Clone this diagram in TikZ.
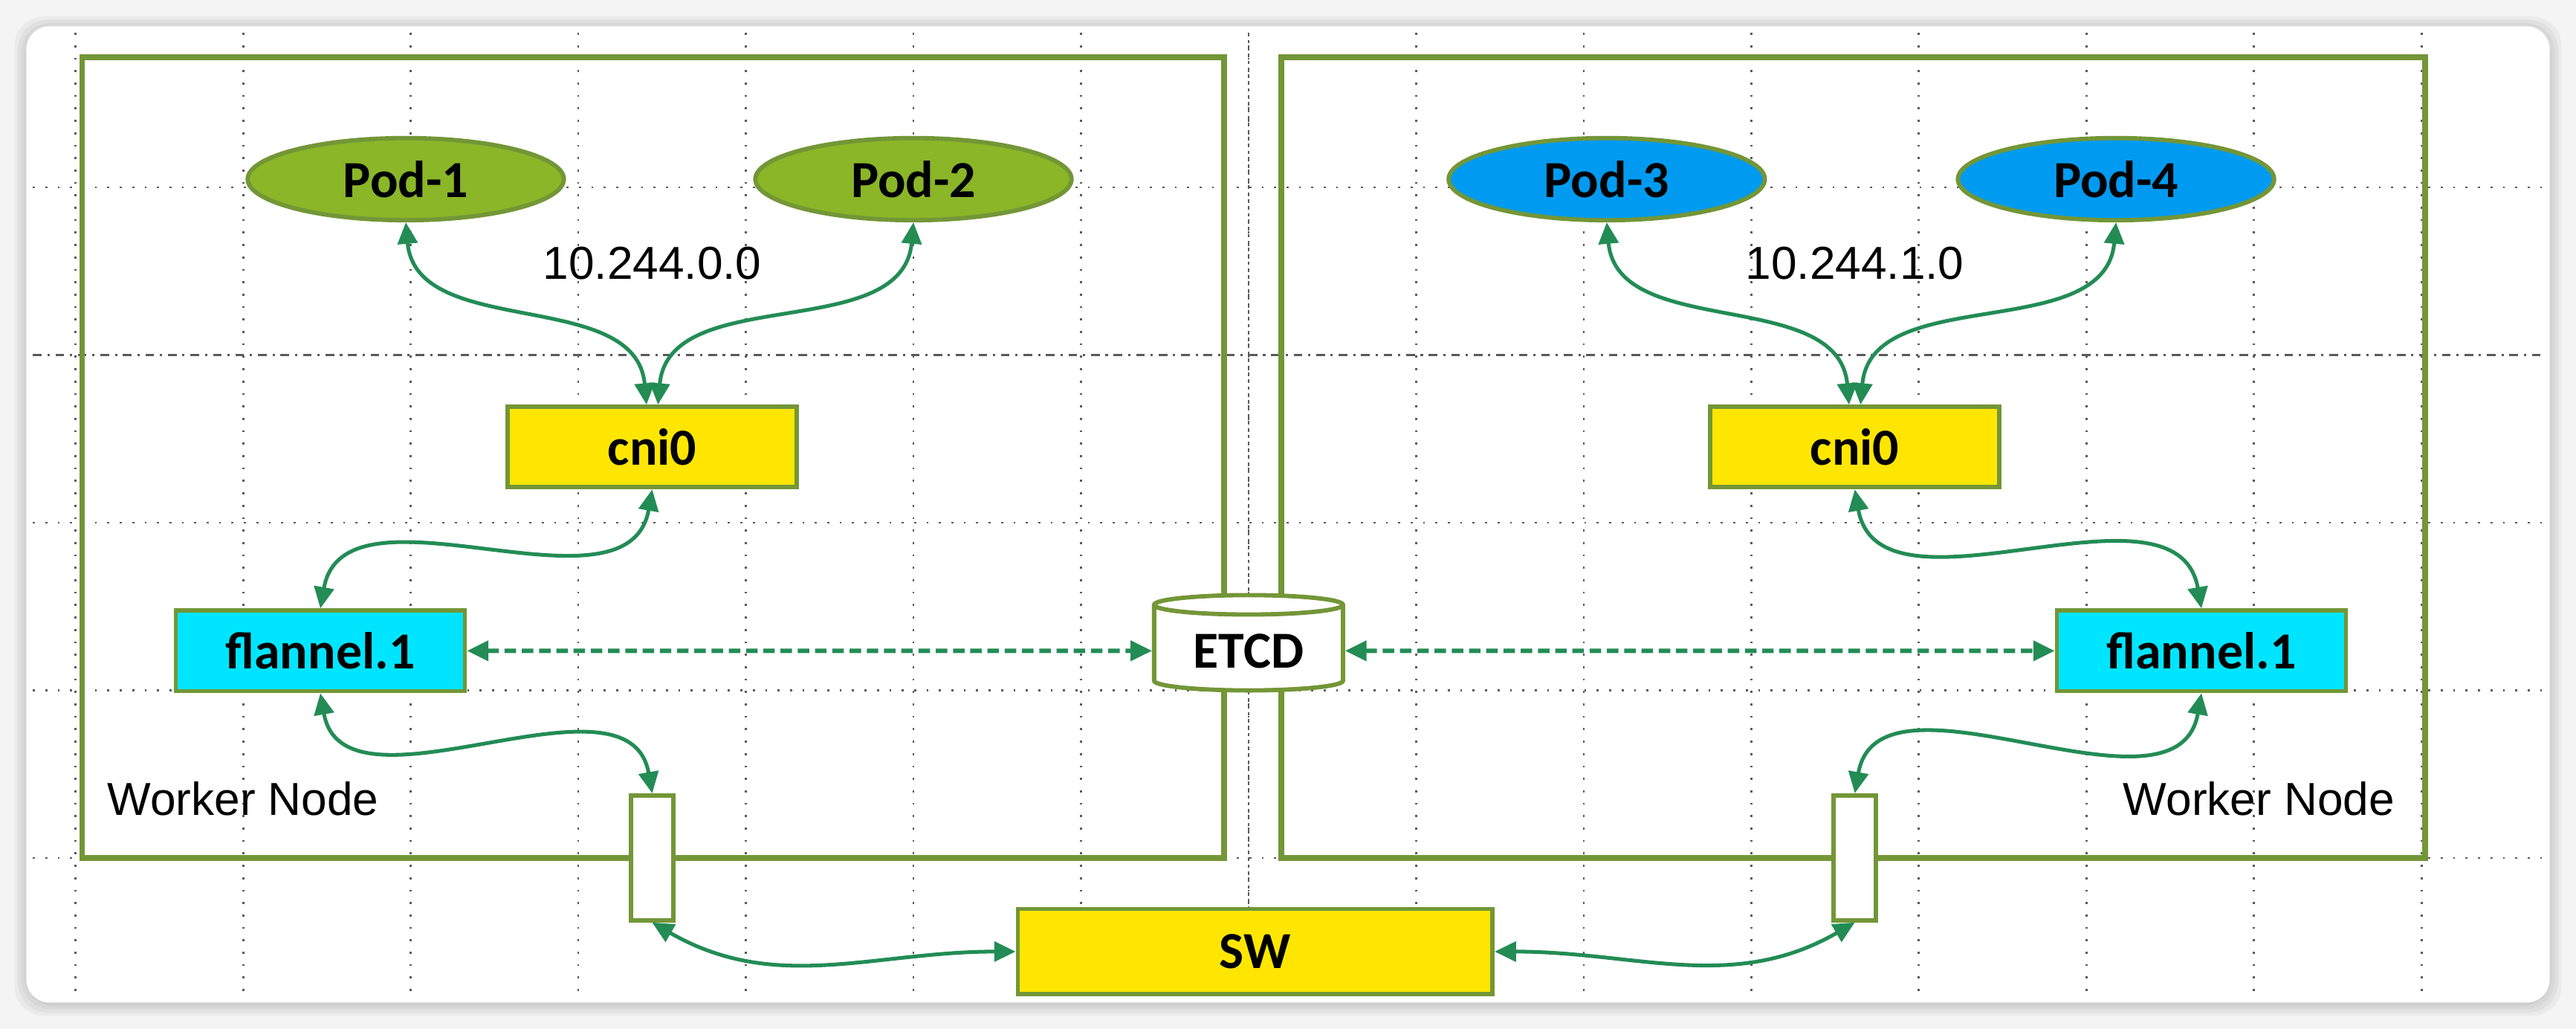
\documentclass[tikz,border=0pt]{standalone}
\usepackage{fontspec}
\setmainfont{Carlito}
\newfontfamily\arialfont{Liberation Sans}
\usepackage{tikz}
\usetikzlibrary{arrows.meta,shapes.geometric}
\definecolor{nodeborder}{RGB}{115,150,55}
\definecolor{podgreen}{RGB}{138,182,40}
\definecolor{podblue}{RGB}{0,155,240}
\definecolor{boxyellow}{RGB}{255,230,0}
\definecolor{boxcyan}{RGB}{0,229,255}
\definecolor{linkgreen}{RGB}{35,140,85}
\definecolor{guidegray}{RGB}{90,90,90}
\definecolor{screenbg}{RGB}{244,244,244}

\begin{document}
\begin{tikzpicture}[
    x=0.02cm, y=-0.02cm,
    pod/.style={ellipse, draw=nodeborder, line width=1.5pt, minimum width=3.85cm, minimum height=1cm, font=\bfseries\fontsize{18}{20}\selectfont},
    dev/.style={rectangle, draw=nodeborder, line width=1.5pt, minimum width=3.52cm, minimum height=0.98cm, font=\bfseries\fontsize{18}{20}\selectfont},
    port/.style={rectangle, draw=nodeborder, line width=1.5pt, fill=white, minimum width=0.52cm, minimum height=1.52cm},
    store/.style={cylinder, shape border rotate=90, aspect=0.15, draw=nodeborder, line width=1.5pt, fill=white, minimum width=2.3cm, minimum height=1.16cm, font=\bfseries\fontsize{18}{20}\selectfont},
    worker/.style={draw=nodeborder, line width=2pt},
    lbl/.style={font=\arialfont\fontsize{16}{18}\selectfont},
    guide/.style={guidegray, line width=0.7pt, dash pattern=on 0.7pt off 3.6pt},
    link/.style={{Triangle[length=0.26cm,width=0.24cm]}-{Triangle[length=0.26cm,width=0.24cm]}, line width=1.3pt, draw=linkgreen},
    sync/.style={link, line width=1.5pt, dash pattern=on 0.14cm off 0.07cm}
]
\useasboundingbox (0,0) rectangle (1568,626);

% Screen
\fill[screenbg] (0,0) rectangle (1568,626);
\foreach \s in {7,5,3,1}
  \fill[black, opacity=0.04, rounded corners=10] (16-\s,16-\s+1) rectangle (1552+\s,610+\s+1);
\fill[white, rounded corners=8] (16,16) rectangle (1552,610);

% Guides
\foreach \gx in {46,148,...,1474}
  \draw[guide] (\gx,20) -- (\gx,606);
\foreach \gy in {114,318,420,522}
  \draw[guide] (20,\gy) -- (1548,\gy);
\draw[guide, dash pattern=on 1.2pt off 1.2pt] (760,20) -- (760,606);
\draw[guide, dash pattern=on 3pt off 2pt on 0.8pt off 2pt] (20,216) -- (1548,216);

% Worker nodes
\draw[worker] (50,35) rectangle (745,522);
\draw[worker] (780,35) rectangle (1476,522);

% Nodes
\node[pod, fill=podgreen] (pod1) at (247,109) {Pod-1};
\node[pod, fill=podgreen] (pod2) at (556,109) {Pod-2};
\node[pod, fill=podblue] (pod3) at (978,109) {Pod-3};
\node[pod, fill=podblue] (pod4) at (1288,109) {Pod-4};
\node[dev, fill=boxyellow] (cniL) at (397,272) {cni0};
\node[dev, fill=boxyellow] (cniR) at (1129,272) {cni0};
\node[dev, fill=boxcyan] (flanL) at (195,396) {flannel.1};
\node[dev, fill=boxcyan] (flanR) at (1340,396) {flannel.1};
\node[store] (etcd) at (760,396) {ETCD};
\node[port] (ethL) at (397,522) {};
\node[port] (ethR) at (1129,522) {};
\node[dev, fill=boxyellow, minimum width=5.78cm, minimum height=1.04cm] (sw) at (764,579) {SW};

% Arrows
\draw[link] (pod1.south) to[out=-85, in=95] ([xshift=-0.07cm]cniL.north);
\draw[link] (pod2.south) to[out=-95, in=85] ([xshift=0.07cm]cniL.north);
\draw[link] (pod3.south) to[out=-85, in=95] ([xshift=-0.07cm]cniR.north);
\draw[link] (pod4.south) to[out=-95, in=85] ([xshift=0.07cm]cniR.north);
\draw[link] (cniL.south) to[out=-100, in=80] (flanL.north);
\draw[link] (cniR.south) to[out=-80, in=100] (flanR.north);
\draw[link] (flanL.south) to[out=-80, in=100] (ethL.north);
\draw[link] (flanR.south) to[out=-100, in=80] (ethR.north);
\draw[link] (ethL.south) to[out=-30, in=180] (sw.west);
\draw[link] (ethR.south) to[out=-150, in=0] (sw.east);
\draw[sync] (flanL.east) -- (etcd.west);
\draw[sync] (etcd.east) -- (flanR.west);

% Labels
\node[lbl] (netL) at (397,160) {10.244.0.0};
\node[lbl] (netR) at (1129,160) {10.244.1.0};
\node[lbl] (hostL) at (148,486) {Worker Node};
\node[lbl] (hostR) at (1375,486) {Worker Node};
\end{tikzpicture}
\end{document}
